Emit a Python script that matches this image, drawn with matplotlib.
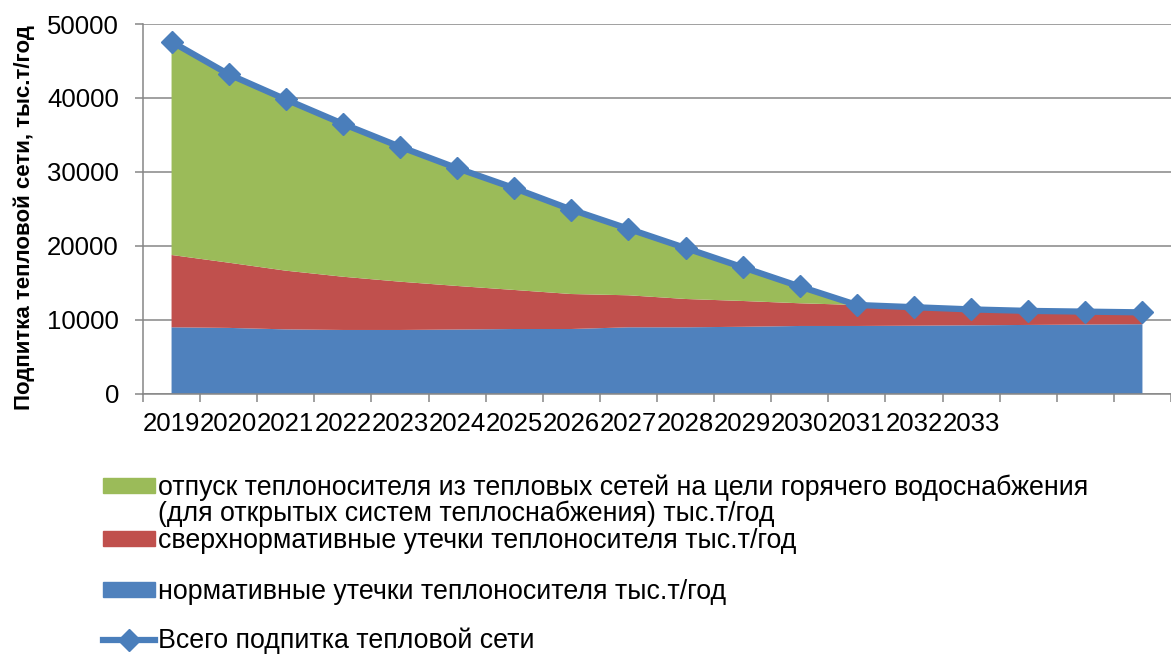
import numpy as np
import matplotlib
matplotlib.use("Agg")
import matplotlib.pyplot as plt
from matplotlib.patches import Patch
from matplotlib.lines import Line2D

plt.rcParams['font.family'] = ['Liberation Sans', 'DejaVu Sans']

# years on the category axis (only the first 15 are labelled)
years = ["2019", "2020", "2021", "2022", "2023", "2024", "2025", "2026", "2027",
         "2028", "2029", "2030", "2031", "2032", "2033", "", "", ""]

# normative leaks, thousand t/year
normative = [8980, 8900, 8700, 8620, 8620, 8680, 8750, 8750, 8980,
             8980, 9050, 9160, 9160, 9200, 9250, 9300, 9350, 9400]
# above-normative leaks
excess = [9780, 8820, 7940, 7200, 6530, 5890, 5280, 4730, 4330,
          3830, 3490, 3070, 2840, 2500, 2150, 1900, 1750, 1600]
# hot water supply from open systems
hot_water = [28840, 25480, 23160, 20680, 18250, 15930, 13770, 11420, 8990,
             6890, 4560, 2270, 0, 0, 0, 0, 0, 0]
# total make-up
total = [47600, 43200, 39800, 36500, 33400, 30500, 27800, 24900, 22300,
         19700, 17100, 14500, 12000, 11700, 11400, 11200, 11100, 11000]

names = ["отпуск теплоносителя из тепловых сетей на цели горячего водоснабжения",
         "(для открытых систем теплоснабжения) тыс.т/год",
         "сверхнормативные утечки теплоносителя тыс.т/год",
         "нормативные утечки теплоносителя тыс.т/год",
         "Всего подпитка тепловой сети"]

c_blue = "#4F81BD"
c_red = "#C0504D"
c_green = "#9BBB59"
c_line = "#4A7EBB"
c_axis = "#868686"

fs = 18.5   # tick labels
lfs = 19.3  # legend text

W, H = 1171, 655
fig = plt.figure(figsize=(W / 100, H / 100), dpi=100)
ax = fig.add_axes([143 / W, 1 - 393.7 / H, 1 - 143 / W, (393.7 - 24) / H])

xs = np.arange(len(years))
ax.stackplot(xs, normative, excess, hot_water,
             colors=[c_blue, c_red, c_green], linewidth=0, zorder=2)
ax.plot(xs, total, color=c_line, lw=4.5, marker="D", ms=11,
        zorder=3, clip_on=False)

ax.set_xlim(-0.5, -0.5 + (W - 143) / 57.47)
ax.set_ylim(0, 50000)
ax.set_yticks(np.arange(0, 50001, 10000))

ax.set_xticks(xs)
ax.set_xticklabels(years)
ax.set_xticks(np.arange(len(years) + 1) - 0.5, minor=True)
ax.tick_params(axis="x", which="major", length=0, pad=13, labelsize=fs)
ax.tick_params(axis="x", which="minor", length=6, width=1.1, color=c_axis)
ax.tick_params(axis="y", length=5.8, width=1.1, color=c_axis, pad=11.5, labelsize=fs)

ax.yaxis.grid(True, color=c_axis, lw=1.1, zorder=0)
ax.set_axisbelow(True)
for s in ["top", "right"]:
    ax.spines[s].set_visible(False)
for s in ["left", "bottom"]:
    ax.spines[s].set_color(c_axis)
    ax.spines[s].set_linewidth(1.1)

fig.text(24 / W, 1 - 218 / H, "Подпитка тепловой сети, тыс.т/год",
         rotation=90, fontsize=16, fontweight="bold", ha="center", va="center")

# legend, one entry per row
fs_px = lfs * 100 / 72
hl = 52 / fs_px
htp = 3 / fs_px
entries = [
    (Patch(color=c_green), names[0], 488),
    (Patch(color=c_red), names[2], 541),
    (Patch(color=c_blue), names[3], 592),
    (Line2D([], [], color=c_line, lw=4.5, marker="D", ms=11), names[4], 641),
]
for h, lab, yc in entries:
    fig.legend([h], [lab], loc="center left",
               bbox_to_anchor=(103 / W, 1 - yc / H), bbox_transform=fig.transFigure,
               frameon=False, fontsize=lfs, borderpad=0, borderaxespad=0,
               handlelength=hl, handleheight=0.45, handletextpad=htp, numpoints=1)
fig.text((103 + 52 + 3) / W, 1 - 514 / H, names[1], fontsize=lfs, va="center")

fig.savefig("out.png", dpi=100)
